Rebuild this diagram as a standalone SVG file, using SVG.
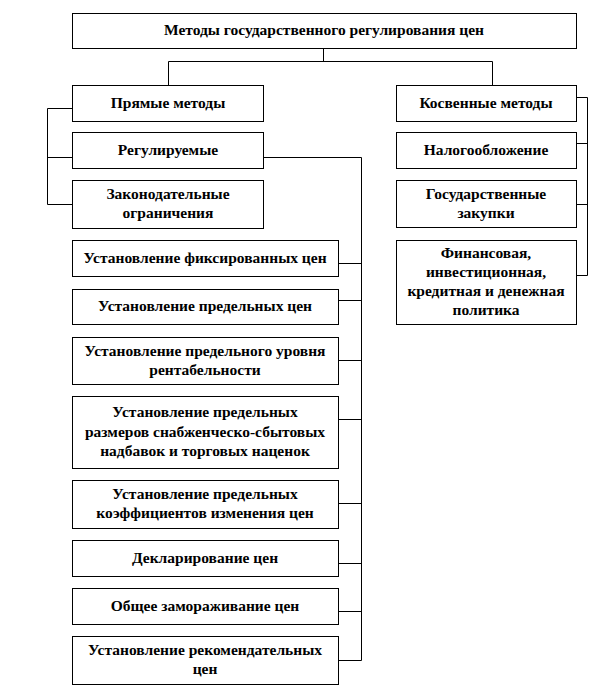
<svg xmlns="http://www.w3.org/2000/svg" width="612" height="696" viewBox="0 0 612 696">
<style>
.box{fill:#fff;stroke:#000;stroke-width:1}
.t{font-family:'Liberation Serif','DejaVu Serif','Times New Roman',serif;font-weight:bold;font-size:15.5px;text-anchor:middle;fill:#000}
.c{fill:none;stroke:#000;stroke-width:1}
</style>
<rect width="612" height="696" fill="#fff"/>
<g id="connectors">
<path class="c" d="M323.5 48.5V61.5M168.5 85V61.5H492.5V85"/>
<path class="c" d="M72 108.5H47.5V204.5H72M47.5 157.5H72"/>
<path class="c" d="M576 97.5H587.5V275.5H576M576 143.5H587.5M576 204.5H587.5"/>
<path class="c" d="M263 157.5H361.5V660.5H338M338 263.5H361.5M338 300.5H361.5M338 360.5H361.5M338 419.5H361.5M338 503.5H361.5M338 563.5H361.5M338 611.5H361.5"/>
</g>
<g id="root"><rect class="box" x="72.5" y="13.5" width="504" height="35"/><text class="t" x="324" y="35">Методы государственного регулирования цен</text></g>
<g id="direct"><rect class="box" x="72.5" y="85.5" width="191" height="36"/><text class="t" x="168" y="108">Прямые методы</text></g>
<g id="indirect"><rect class="box" x="396.5" y="85.5" width="180" height="36"/><text class="t" x="486" y="108">Косвенные методы</text></g>
<g id="regulated"><rect class="box" x="72.5" y="132.5" width="191" height="36"/><text class="t" x="168" y="155">Регулируемые</text></g>
<g id="tax"><rect class="box" x="396.5" y="132.5" width="180" height="36"/><text class="t" x="486" y="155">Налогообложение</text></g>
<g id="legal"><rect class="box" x="72.5" y="180.5" width="191" height="48"/><text class="t" x="168" y="199">Законодательные</text><text class="t" x="168" y="218">ограничения</text></g>
<g id="procurement"><rect class="box" x="396.5" y="180.5" width="180" height="47"/><text class="t" x="486" y="199">Государственные</text><text class="t" x="486" y="218">закупки</text></g>
<g id="finance"><rect class="box" x="396.5" y="240.5" width="180" height="84"/><text class="t" x="486" y="258">Финансовая,</text><text class="t" x="486" y="277">инвестиционная,</text><text class="t" x="486" y="296">кредитная и денежная</text><text class="t" x="486" y="315">политика</text></g>
<g id="fixed"><rect class="box" x="72.5" y="240.5" width="266" height="36"/><text class="t" x="205" y="263">Установление фиксированных цен</text></g>
<g id="limit"><rect class="box" x="72.5" y="289.5" width="266" height="35"/><text class="t" x="205" y="311">Установление предельных цен</text></g>
<g id="profit"><rect class="box" x="72.5" y="337.5" width="266" height="47"/><text class="t" x="205" y="356">Установление предельного уровня</text><text class="t" x="205" y="375">рентабельности</text></g>
<g id="markups"><rect class="box" x="72.5" y="396.5" width="266" height="72"/><text class="t" x="205" y="417">Установление предельных</text><text class="t" x="205" y="437">размеров снабженческо-сбытовых</text><text class="t" x="205" y="456">надбавок и торговых наценок</text></g>
<g id="coef"><rect class="box" x="72.5" y="480.5" width="266" height="48"/><text class="t" x="205" y="499">Установление предельных</text><text class="t" x="205" y="518">коэффициентов изменения цен</text></g>
<g id="declare"><rect class="box" x="72.5" y="540.5" width="266" height="36"/><text class="t" x="205" y="563">Декларирование цен</text></g>
<g id="freeze"><rect class="box" x="72.5" y="588.5" width="266" height="36"/><text class="t" x="205" y="611">Общее замораживание цен</text></g>
<g id="recommend"><rect class="box" x="72.5" y="636.5" width="266" height="48"/><text class="t" x="205" y="655">Установление рекомендательных</text><text class="t" x="205" y="674">цен</text></g>
</svg>
